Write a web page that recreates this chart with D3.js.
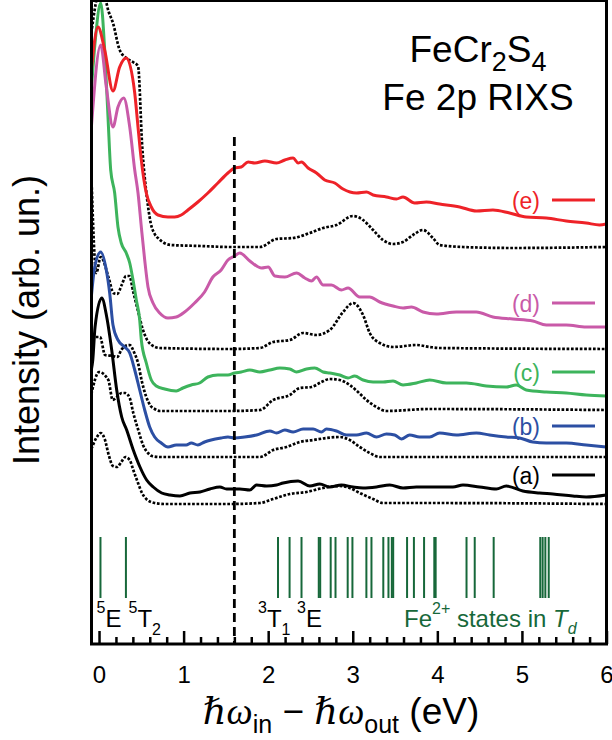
<!DOCTYPE html>
<html>
<head>
<meta charset="utf-8">
<script src="https://cdn.jsdelivr.net/npm/d3@7"></script>
<style>
    body { margin: 0; background: #fff; }
    svg { display: block; font-family: "Liberation Sans", Arial, sans-serif; }
</style>
</head>
<body>
<div id="container"></div>
<script>
// Fe 2p RIXS of FeCr2S4
// each entry: [energy loss (eV), intensity (arb. un., curves already offset)]

// (a) measured + calculated
const specA = [[-0.091,274],[-0.074,284],[-0.047,317],[0.032,346],[0.091,327],[0.150,294],[0.209,254],[0.268,227],
    [0.327,214],[0.405,194],[0.484,177],[0.563,164],[0.641,157],[0.741,151],[0.839,149],[0.957,148],[1.075,151],
    [1.193,152],[1.311,155],[1.429,157],[1.508,155],[1.665,155],[1.783,154],[1.863,159],[1.981,158],[2.099,159],
    [2.177,161],[2.354,163],[2.492,158],[2.610,160],[2.728,157],[2.866,159],[3.003,157],[3.122,156],[3.280,157],
    [3.437,159],[3.594,156],[3.752,157],[3.948,157],[4.184,157],[4.303,159],[4.500,157],[4.697,155],[4.815,158],
    [5.011,153],[5.208,151],[5.366,150],[5.602,148],[5.760,147],[5.996,149]];
const calcA = [[-0.091,195],[-0.032,206],[0.020,211],[0.067,205],[0.115,189],[0.165,178],[0.216,177],[0.263,182],
    [0.311,187],[0.363,184],[0.405,174],[0.461,161],[0.508,151],[0.559,145],[0.658,141],[0.78,140],[1.547,140],
    [1.902,141],[2.059,145],[2.256,150],[2.453,152],[2.649,156],[2.846,158],[2.964,156],[3.083,151],[3.240,145],
    [3.358,141],[3.909,141],[5.996,140]];

// (b)
const specB = [[-0.091,347],[-0.051,377],[0.020,392],[0.086,374],[0.126,351],[0.165,319],[0.224,304],[0.304,297],
    [0.363,291],[0.422,274],[0.481,254],[0.540,234],[0.599,217],[0.658,207],[0.736,201],[0.815,197],[0.913,199],
    [1.031,199],[1.090,201],[1.169,199],[1.248,202],[1.326,204],[1.444,206],[1.524,207],[1.603,206],[1.721,207],
    [1.863,209],[2.020,213],[2.099,211],[2.197,214],[2.295,212],[2.413,215],[2.531,215],[2.630,212],[2.689,215],
    [2.807,213],[2.925,209],[3.044,209],[3.162,211],[3.280,207],[3.398,210],[3.496,209],[3.575,205],[3.673,209],
    [3.791,207],[3.909,207],[4.027,211],[4.225,209],[4.461,211],[4.618,209],[4.815,207],[4.972,206],[5.129,202],
    [5.288,201],[5.524,201],[5.760,199],[5.996,197]];
const calcB = [[-0.091,250],[0.000,272],[0.110,264],[0.162,244],[0.209,247],[0.268,251],[0.311,251],[0.363,246],
    [0.405,231],[0.464,214],[0.520,199],[0.579,191],[0.626,188],[0.720,187],[1.547,187],[1.902,187],[2.059,194],
    [2.217,197],[2.374,202],[2.531,204],[2.689,206],[2.846,207],[2.964,204],[3.083,197],[3.201,191],[3.319,187],
    [5.996,187]];

// (c)
const specC = [[-0.091,554],[-0.044,604],[0.020,641],[0.067,594],[0.106,527],[0.138,474],[0.185,451],[0.224,417],
    [0.263,401],[0.322,391],[0.363,381],[0.402,364],[0.441,344],[0.481,324],[0.500,304],[0.559,281],[0.618,264],
    [0.677,258],[0.776,255],[0.913,253],[0.992,256],[1.090,259],[1.189,261],[1.287,267],[1.405,269],[1.524,269],
    [1.603,271],[1.681,272],[1.783,274],[1.902,272],[2.020,274],[2.138,276],[2.256,275],[2.335,272],[2.453,275],
    [2.551,276],[2.649,272],[2.728,271],[2.846,269],[2.944,266],[3.023,268],[3.122,264],[3.240,262],[3.358,262],
    [3.476,263],[3.594,259],[3.752,261],[3.909,264],[4.107,261],[4.343,261],[4.579,258],[4.815,257],[4.933,259],
    [5.051,254],[5.288,252],[5.524,251],[5.760,249],[5.996,248]];
const calcC = [[-0.091,300],[-0.047,307],[0.012,307],[0.071,289],[0.165,288],[0.216,287],[0.263,294],[0.311,298],
    [0.363,299],[0.413,292],[0.461,281],[0.508,262],[0.559,247],[0.611,238],[0.658,235],[0.720,233],[1.547,233],
    [1.902,234],[2.059,244],[2.256,249],[2.374,256],[2.512,257],[2.630,262],[2.728,265],[2.846,264],[2.964,259],
    [3.062,252],[3.162,244],[3.280,237],[3.398,233],[3.909,235],[5.996,234]];

// (d)
const specD = [[-0.091,516],[0.020,599],[0.086,557],[0.165,517],[0.224,537],[0.292,546],[0.363,517],[0.422,474],
    [0.461,451],[0.500,417],[0.540,384],[0.579,357],[0.638,341],[0.717,331],[0.815,326],[0.913,327],[1.012,332],
    [1.130,341],[1.248,352],[1.346,367],[1.444,374],[1.524,384],[1.603,388],[1.665,391],[1.783,383],[1.922,376],
    [2.000,377],[2.079,368],[2.197,367],[2.335,371],[2.433,366],[2.512,363],[2.571,367],[2.649,359],[2.748,359],
    [2.866,354],[2.944,356],[3.083,347],[3.201,347],[3.319,342],[3.476,338],[3.594,336],[3.693,337],[3.830,332],
    [3.988,330],[4.225,332],[4.461,332],[4.657,327],[4.893,325],[5.129,323],[5.288,319],[5.524,319],[5.760,317],
    [5.996,317]];
const calcD = [[-0.091,470],[-0.032,371],[0.020,387],[0.115,366],[0.169,351],[0.216,350],[0.268,359],[0.319,368],
    [0.358,368],[0.405,352],[0.464,332],[0.516,315],[0.563,305],[0.622,299],[0.720,296],[1.547,295],[1.902,296],
    [2.059,302],[2.256,304],[2.413,311],[2.571,309],[2.728,314],[2.885,332],[3.003,341],[3.122,329],[3.201,311],
    [3.319,301],[3.476,297],[3.752,299],[3.909,297],[4.027,296],[5.996,295]];

// (e)
const specE = [[-0.091,574],[-0.012,617],[0.067,594],[0.165,553],[0.244,577],[0.322,586],[0.422,551],[0.461,517],
    [0.500,484],[0.559,451],[0.618,437],[0.697,429],[0.815,427],[0.894,427],[0.972,429],[1.051,434],[1.169,442],
    [1.287,451],[1.405,461],[1.524,471],[1.603,476],[1.681,477],[1.763,482],[1.842,481],[1.961,483],[2.099,481],
    [2.197,484],[2.295,486],[2.354,481],[2.394,482],[2.472,476],[2.571,471],[2.669,464],[2.787,461],[2.885,455],
    [3.044,451],[3.162,452],[3.240,449],[3.398,447],[3.516,445],[3.594,447],[3.732,441],[3.870,442],[4.027,440],
    [4.264,437],[4.461,433],[4.657,434],[4.854,431],[5.051,427],[5.288,426],[5.524,423],[5.760,421],[5.917,419],
    [5.996,420]];
const calcE = [[-0.091,611],[-0.04,640],[0.02,660],[0.115,632],[0.165,621],[0.24,595],[0.32,586],[0.40,582],
    [0.461,578],[0.511,497],[0.567,446],[0.611,421],[0.658,410],[0.709,405],[0.85,399],[1.2,398],[1.547,397],
    [1.902,397],[2.099,405],[2.295,406],[2.492,411],[2.649,416],[2.807,419],[3.003,428],[3.122,424],[3.240,414],
    [3.358,404],[3.476,400],[3.594,402],[3.712,409],[3.830,414],[3.948,406],[4.027,399],[4.303,397],[4.89,396],
    [5.996,397]];

const seriesNames = ["(a)", "(b)", "(c)", "(d)", "(e)"];
const seriesColors = ["#000000", "#2c4fa3", "#3db45c", "#c95aa8", "#ee2228"];
// level of the legend dash for each series (same intensity units)
const legendLevels = [169, 218, 272, 341, 444];

// Fe2+ multiplet energies in Td (eV)
const stickEnergies = [0.017, 0.318, 2.116, 2.253, 2.394, 2.598, 2.615, 2.739, 2.796, 2.940, 2.996, 3.161, 3.221,
    3.361, 3.422, 3.462, 3.478, 3.642, 3.723, 3.843, 3.964, 3.980, 4.345, 4.442, 4.666, 5.217, 5.245, 5.277, 5.317];
const stickBase = 46;
const stickTop = 107;

const xTicks = [0, 1, 2, 3, 4, 5, 6];
const xMinorTicks = d3.range(0, 30).map(i => i * 0.2).filter(v => Math.abs(v - Math.round(v)) > 1e-6);
const markerEnergy = 1.6;   // dashed line
const markerTop = 507;

const width = 612;
const height = 740;
const green = "#17683a";

const scaleX = d3.scaleLinear().domain([-0.089, 6]).range([91.5, 606.5]);
const scaleY = d3.scaleLinear().domain([0, 644]).range([644, 0]);

const line = d3.line()
    .x(d => scaleX(d[0]))
    .y(d => scaleY(d[1]))
    .curve(d3.curveMonotoneX);

const svg = d3.select("#container")
    .append("svg")
    .attr("width", width)
    .attr("height", height);

svg.append("clipPath").attr("id", "plot")
    .append("rect")
    .attr("x", scaleX.range()[0]).attr("y", 0)
    .attr("width", scaleX.range()[1] - scaleX.range()[0])
    .attr("height", scaleY(0));

const plot = svg.append("g").attr("clip-path", "url(#plot)");

const measured = [specA, specB, specC, specD, specE];
const calculated = [calcA, calcB, calcC, calcD, calcE];

// calculated spectra, dotted
plot.selectAll(".calc")
    .data(calculated)
    .join("path")
    .attr("class", "calc")
    .attr("fill", "none")
    .attr("stroke", "#000")
    .attr("stroke-width", 2.7)
    .attr("stroke-dasharray", "2.7,1.7")
    .attr("d", line);

// measured spectra
plot.selectAll(".meas")
    .data(measured)
    .join("path")
    .attr("class", "meas")
    .attr("fill", "none")
    .attr("stroke", (d, i) => seriesColors[i])
    .attr("stroke-width", 3)
    .attr("stroke-linejoin", "round")
    .attr("d", line);

// dashed marker line
plot.append("line")
    .attr("x1", scaleX(markerEnergy)).attr("x2", scaleX(markerEnergy))
    .attr("y1", scaleY(markerTop)).attr("y2", scaleY(0))
    .attr("stroke", "#000")
    .attr("stroke-width", 2.8)
    .attr("stroke-dasharray", "9,5");

// multiplet sticks
plot.selectAll(".stick")
    .data(stickEnergies)
    .join("line")
    .attr("class", "stick")
    .attr("x1", d => scaleX(d)).attr("x2", d => scaleX(d))
    .attr("y1", scaleY(stickBase)).attr("y2", scaleY(stickTop))
    .attr("stroke", green)
    .attr("stroke-width", 2);

// legend labels on the right
const legend = svg.selectAll(".legend")
    .data(seriesNames)
    .join("g")
    .attr("class", "legend");
legend.append("text")
    .attr("x", 540)
    .attr("y", (d, i) => scaleY(legendLevels[i]) + 8.5)
    .attr("text-anchor", "end")
    .attr("font-size", 23)
    .attr("fill", (d, i) => seriesColors[i])
    .text(d => d);
legend.append("line")
    .attr("x1", 552).attr("x2", 595)
    .attr("y1", (d, i) => scaleY(legendLevels[i]))
    .attr("y2", (d, i) => scaleY(legendLevels[i]))
    .attr("stroke", (d, i) => seriesColors[i])
    .attr("stroke-width", 3);

// x axis: major and minor ticks pointing inward
const axisMajor = svg.append("g")
    .attr("transform", "translate(0," + scaleY(0) + ")")
    .call(d3.axisBottom(scaleX).tickValues(xTicks).tickSize(-13).tickPadding(22).tickFormat(d3.format("d")));
const axisMinor = svg.append("g")
    .attr("transform", "translate(0," + scaleY(0) + ")")
    .call(d3.axisBottom(scaleX).tickValues(xMinorTicks).tickSize(-7).tickFormat(""));
[axisMajor, axisMinor].forEach(a => {
    a.select(".domain").remove();
    a.selectAll(".tick line").attr("stroke-width", 2.5);
});
axisMajor.selectAll(".tick text")
    .attr("font-size", 24)
    .attr("font-family", "Liberation Sans, Arial, sans-serif")
    .attr("fill", "#000");

// frame
svg.append("rect")
    .attr("x", scaleX.range()[0]).attr("y", 0.5)
    .attr("width", scaleX.range()[1] - scaleX.range()[0])
    .attr("height", scaleY(0) - 0.5)
    .attr("fill", "none")
    .attr("stroke", "#000")
    .attr("stroke-width", 3);

// title
const t1 = svg.append("text").attr("x", 478).attr("y", 62).attr("text-anchor", "middle").attr("font-size", 37);
t1.append("tspan").text("FeCr");
t1.append("tspan").attr("font-size", 27).attr("dy", 9).text("2");
t1.append("tspan").attr("dy", -9).text("S");
t1.append("tspan").attr("font-size", 27).attr("dy", 9).text("4");
svg.append("text").attr("x", 478).attr("y", 110).attr("text-anchor", "middle").attr("font-size", 37)
    .text("Fe 2p RIXS");

// state labels under the sticks
function stateLabel(x, sup, main, sub) {
    const t = svg.append("text").attr("x", x).attr("y", 627).attr("font-size", 24);
    t.append("tspan").attr("font-size", 16).attr("dy", -14).text(sup);
    t.append("tspan").attr("dy", 14).text(main);
    if (sub) t.append("tspan").attr("font-size", 16).attr("dy", 8).text(sub);
    return t;
}
stateLabel(96.5, "5", "E");
stateLabel(128.5, "5", "T", "2");
stateLabel(258, "3", "T", "1");
stateLabel(297, "3", "E");

const fe = svg.append("text").attr("x", 404).attr("y", 627).attr("font-size", 24).attr("fill", green);
fe.append("tspan").text("Fe");
fe.append("tspan").attr("font-size", 16).attr("dy", -13).text("2+");
fe.append("tspan").attr("dy", 13).text(" states in ");
fe.append("tspan").attr("font-style", "italic").text("T");
fe.append("tspan").attr("font-size", 16).attr("dy", 7).attr("font-style", "italic").text("d");

// axis titles
const serif = "Liberation Serif, DejaVu Serif, serif";
const xl = svg.append("text").attr("x", 341).attr("y", 724).attr("text-anchor", "middle").attr("font-size", 37);
xl.append("tspan").attr("font-family", serif).attr("font-style", "italic").text("ℏω");
xl.append("tspan").attr("font-size", 25).attr("dy", 9).text("in");
xl.append("tspan").attr("dy", -9).text(" − ");
xl.append("tspan").attr("font-family", serif).attr("font-style", "italic").text("ℏω");
xl.append("tspan").attr("font-size", 25).attr("dy", 9).text("out");
xl.append("tspan").attr("dy", -9).text(" (eV)");

svg.append("text")
    .attr("transform", "translate(39,320) rotate(-90)")
    .attr("text-anchor", "middle")
    .attr("font-size", 36)
    .text("Intensity (arb. un.)");
</script>
</body>
</html>
